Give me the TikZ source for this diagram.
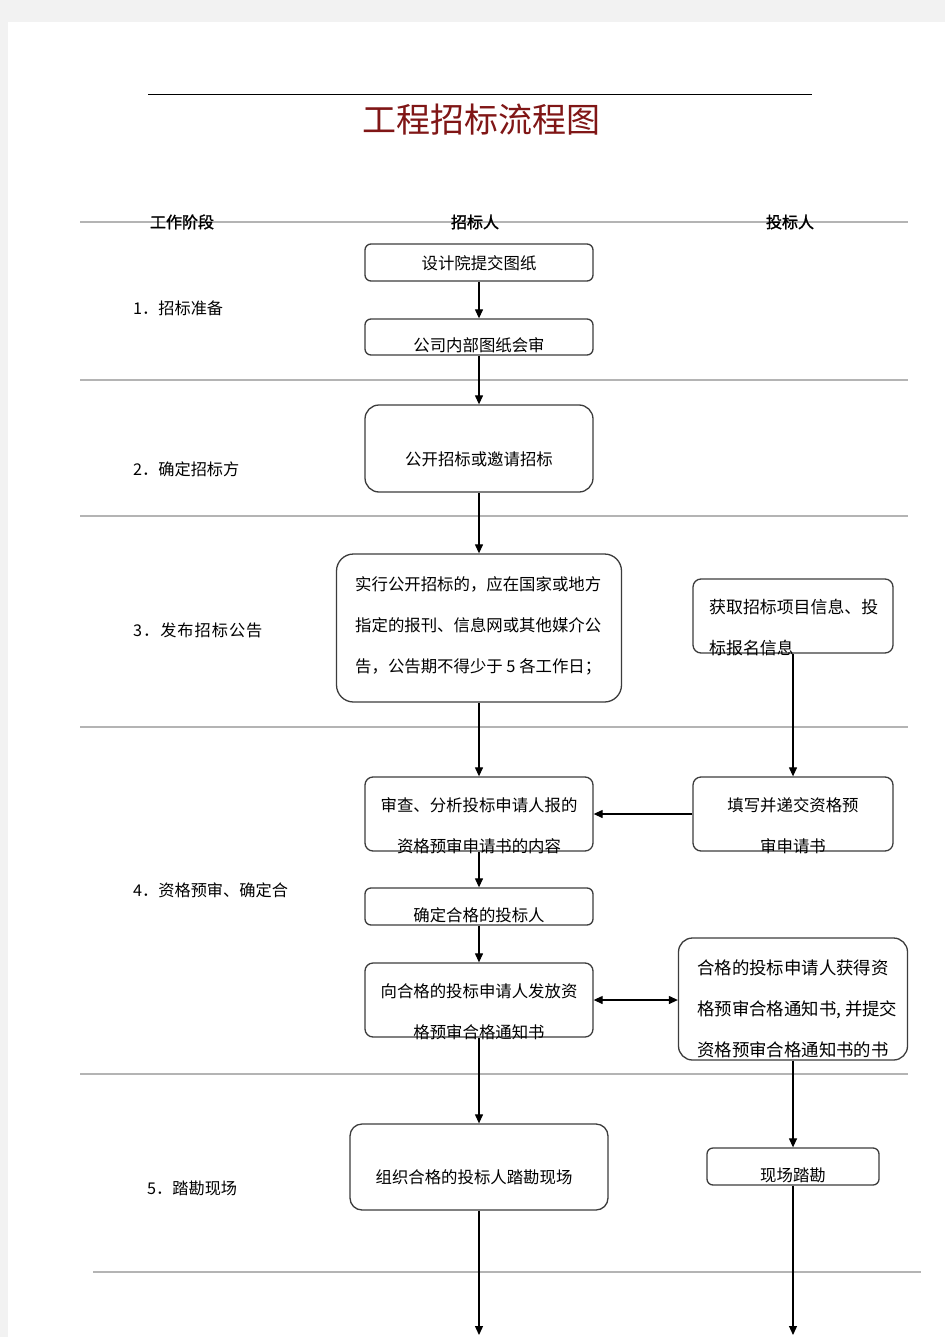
\documentclass[tikz,border=0pt]{standalone}
\usepackage{fontspec}
\setmainfont{Noto Sans CJK SC}
\newfontfamily\hdfont{Noto Sans CJK SC}[FakeBold=1.5]
\usetikzlibrary{arrows.meta}
\definecolor{pagebg}{HTML}{F2F2F2}
\definecolor{sepc}{HTML}{B4B4B4}
\definecolor{boxc}{HTML}{3C3C3C}
\definecolor{titlec}{RGB}{128,22,22}
\begin{document}
\begin{tikzpicture}[x=1pt,y=-1pt,
  box/.style={draw=boxc, line width=1.3pt, rounded corners=6pt, inner sep=0pt},
  bigbox/.style={box, rounded corners=14pt},
  txt/.style={font=\fontsize{16.4}{41}\selectfont, inner sep=0pt, align=center},
  ltxt/.style={font=\fontsize{16.4}{41}\selectfont, inner sep=0pt, align=left},
  stage/.style={font=\fontsize{16.2}{20}\selectfont, inner sep=0pt, anchor=west},
  head/.style={font=\hdfont\fontsize{16}{20}\selectfont, inner sep=0pt},
  sep/.style={draw=sepc, line width=2pt},
  arr/.style={draw=black, line width=1.2pt, -{Triangle[length=9pt,width=8pt]}},
  darr/.style={draw=black, line width=1.2pt, {Triangle[length=9pt,width=8pt]}-{Triangle[length=9pt,width=8pt]}}
]
\useasboundingbox (0,0) rectangle (945,1337);
\fill[pagebg] (0,0) rectangle (945,1337);
\fill[white] (8,22) rectangle (945,1337);

% top rule and title
\draw[black, line width=1pt] (148,95) -- (812,95);
\node[font=\fontsize{34}{40}\selectfont, text=titlec, inner sep=0pt] (title) at (481,120) {工程招标流程图};

% separators
\draw[sep] (80,222) -- (908,222);
\draw[sep] (80,380) -- (908,380);
\draw[sep] (80,516) -- (908,516);
\draw[sep] (80,727) -- (908,727);
\draw[sep] (80,1074) -- (908,1074);
\draw[sep] (93,1272) -- (921,1272);

% headers
\node[head] (h1) at (182,222) {工作阶段};
\node[head] (h2) at (475,222) {招标人};
\node[head] (h3) at (790,222) {投标人};

% stages
\node[stage] (s1) at (133,308) {1．招标准备};
\node[stage] (s2) at (133,469) {2．确定招标方};
\node[stage] (s3) at (133,630) {\addfontfeature{LetterSpace=6}3．发布招标公告};
\node[stage] (s4) at (133,890) {4．资格预审、确定合};
\node[stage] (s5) at (147,1188) {5．踏勘现场};

% boxes
\node[box, minimum width=228, minimum height=37] (A) at (479,262.5) {};
\node[txt] (At) at (479,263) {设计院提交图纸};

\node[box, minimum width=228, minimum height=36] (B) at (479,337) {};
\node[txt] (Bt) at (479,345) {公司内部图纸会审};

\node[bigbox, minimum width=228, minimum height=87] (C) at (479,448.5) {};
\node[txt] (Ct) at (479,459) {公开招标或邀请招标};

\node[bigbox, rounded corners=17pt, minimum width=285, minimum height=148] (D) at (479,628) {};
\node[ltxt, anchor=west] (Dt) at (355,626) {实行公开招标的，应在国家或地方\\指定的报刊、信息网或其他媒介公\\告，公告期不得少于 5 各工作日；};

\node[box, rounded corners=8pt, minimum width=200, minimum height=74] (E) at (793,616) {};
\node[ltxt, anchor=west, font=\fontsize{16.9}{41}\selectfont] (Et) at (709,627.5) {获取招标项目信息、投\\标报名信息};

\node[box, rounded corners=8pt, minimum width=228, minimum height=74] (F) at (479,814) {};
\node[txt] (Ft) at (479,825.5) {审查、分析投标申请人报的\\资格预审申请书的内容};

\node[box, rounded corners=8pt, minimum width=200, minimum height=74] (G) at (793,814) {};
\node[txt] (Gt) at (793,825.5) {填写并递交资格预\\审申请书};

\node[box, minimum width=228, minimum height=37] (H) at (479,906.5) {};
\node[txt] (Ht) at (479,915) {确定合格的投标人};

\node[box, rounded corners=8pt, minimum width=228, minimum height=74] (I) at (479,1000) {};
\node[txt] (It) at (479,1011.5) {向合格的投标申请人发放资\\格预审合格通知书};

\node[bigbox, minimum width=229, minimum height=122] (J) at (793,999) {};
\node[ltxt, anchor=west, font=\fontsize{17.4}{41}\selectfont] (Jt) at (697,1009) {合格的投标申请人获得资\\格预审合格通知书, 并提交\\资格预审合格通知书的书};

\node[bigbox, rounded corners=12pt, minimum width=258, minimum height=86] (K) at (479,1167) {};
\node[txt] (Kt) at (474,1177) {组织合格的投标人踏勘现场};

\node[box, minimum width=172, minimum height=37] (L) at (793,1166.5) {};
\node[txt] (Lt) at (793,1175) {现场踏勘};

\coordinate (endK) at (479,1335);
\coordinate (endL) at (793,1335);

% connectors
\draw[arr] (A) -- (B);
\draw[arr] (B) -- (C);
\draw[arr] (C) -- (D);
\draw[arr] (D) -- (F);
\draw[arr] (E) -- (G);
\draw[arr] (G) -- (F);
\draw[arr] (F) -- (H);
\draw[arr] (H) -- (I);
\draw[darr] (I.east) -- (J.west |- I.east);
\draw[arr] (I) -- (K);
\draw[arr] (J) -- (L);
\draw[arr] (K) -- (endK);
\draw[arr] (L) -- (endL);
\end{tikzpicture}
\end{document}
